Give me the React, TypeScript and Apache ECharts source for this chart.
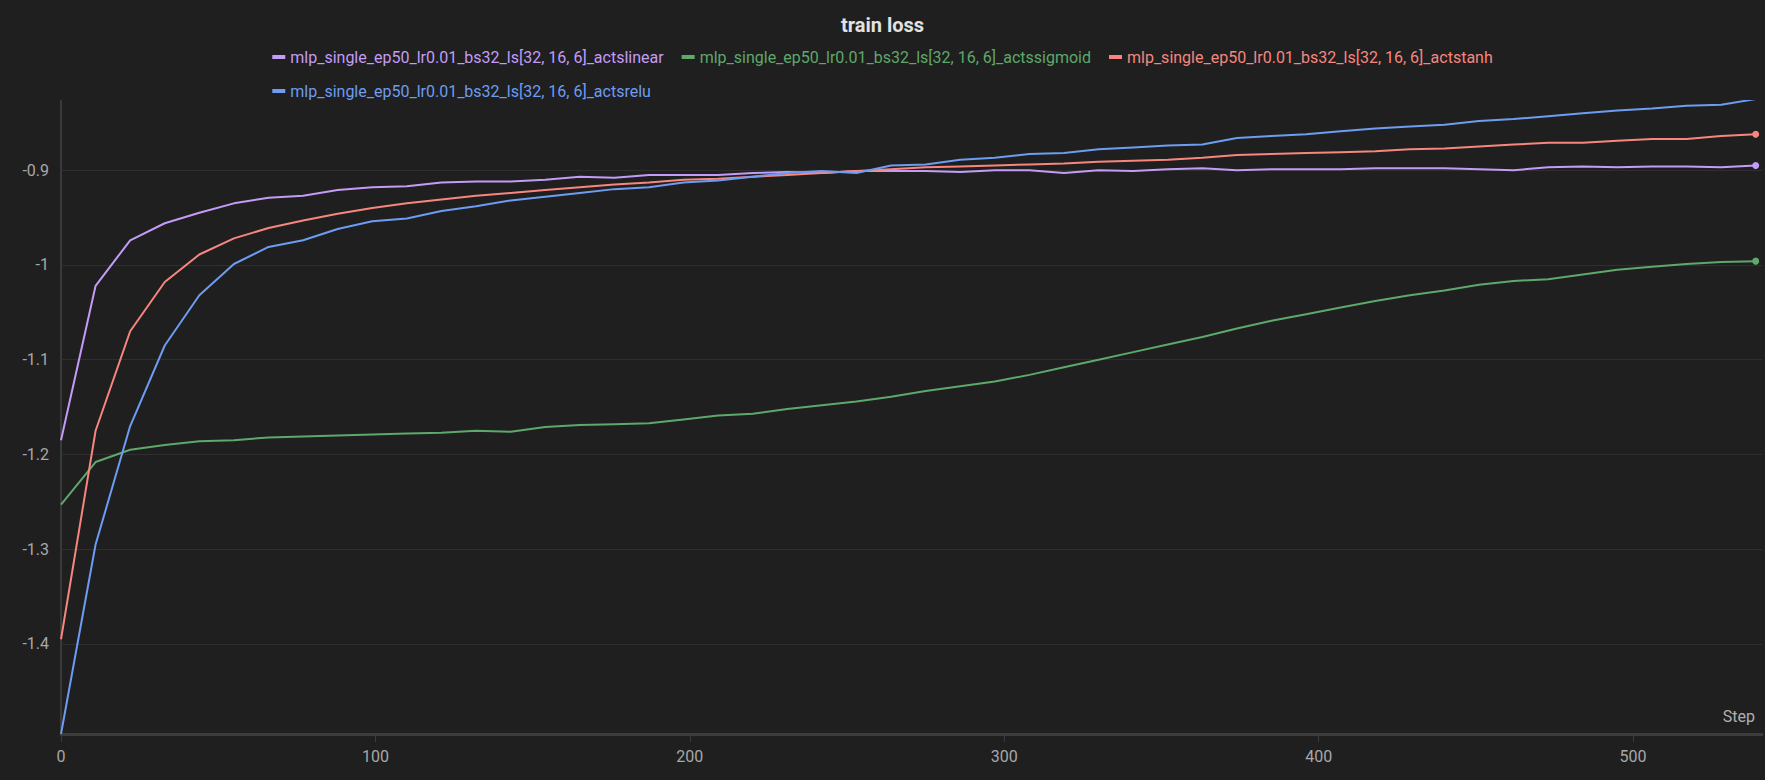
import { useEffect, useRef } from "react";
import * as echarts from "echarts";

const steps = [0, 11, 22, 33, 44, 55, 66, 77, 88, 99, 110, 121, 132, 143, 154, 165, 176, 187, 198, 209, 220, 231, 242, 253, 264, 275, 286, 297, 308, 319, 330, 341, 352, 363, 374, 385, 396, 407, 418, 429, 440, 451, 462, 473, 484, 495, 506, 517, 528, 539];

const linear = [-1.185, -1.022, -0.974, -0.956, -0.945, -0.935, -0.929, -0.927, -0.921, -0.918, -0.917, -0.913, -0.912, -0.912, -0.910, -0.907, -0.908, -0.905, -0.905, -0.905, -0.903, -0.902, -0.903, -0.901, -0.901, -0.901, -0.902, -0.900, -0.900, -0.903, -0.900, -0.901, -0.899, -0.898, -0.900, -0.899, -0.899, -0.899, -0.898, -0.898, -0.898, -0.899, -0.900, -0.897, -0.896, -0.897, -0.896, -0.896, -0.897, -0.895];
const sigmoid = [-1.253, -1.208, -1.195, -1.190, -1.186, -1.185, -1.182, -1.181, -1.180, -1.179, -1.178, -1.177, -1.175, -1.176, -1.171, -1.169, -1.168, -1.167, -1.163, -1.159, -1.157, -1.152, -1.148, -1.144, -1.139, -1.133, -1.128, -1.123, -1.116, -1.108, -1.100, -1.092, -1.084, -1.076, -1.067, -1.059, -1.052, -1.045, -1.038, -1.032, -1.027, -1.021, -1.017, -1.015, -1.010, -1.005, -1.002, -0.999, -0.997, -0.996];
const tanh = [-1.395, -1.175, -1.070, -1.018, -0.989, -0.972, -0.961, -0.953, -0.946, -0.940, -0.935, -0.931, -0.927, -0.924, -0.921, -0.918, -0.915, -0.913, -0.910, -0.909, -0.907, -0.905, -0.903, -0.901, -0.899, -0.897, -0.896, -0.895, -0.894, -0.893, -0.891, -0.890, -0.889, -0.887, -0.884, -0.883, -0.882, -0.881, -0.880, -0.878, -0.877, -0.875, -0.873, -0.871, -0.871, -0.869, -0.867, -0.867, -0.864, -0.862];
const relu = [-1.495, -1.295, -1.170, -1.085, -1.032, -0.999, -0.981, -0.974, -0.962, -0.954, -0.951, -0.943, -0.938, -0.932, -0.928, -0.924, -0.920, -0.918, -0.913, -0.911, -0.907, -0.903, -0.901, -0.903, -0.895, -0.894, -0.889, -0.887, -0.883, -0.882, -0.878, -0.876, -0.874, -0.873, -0.866, -0.864, -0.862, -0.859, -0.856, -0.854, -0.852, -0.848, -0.846, -0.843, -0.840, -0.837, -0.835, -0.832, -0.831, -0.825];

const gridTicks = [-1.4, -1.3, -1.2, -1.1, -1, -0.9];

const prefix = "mlp_single_ep50_lr0.01_bs32_ls[32, 16, 6]_acts";
const runs = [
  { name: prefix + "linear", values: linear, color: "#c39cf7" },
  { name: prefix + "sigmoid", values: sigmoid, color: "#5ea86a" },
  { name: prefix + "tanh", values: tanh, color: "#f7867e" },
  { name: prefix + "relu", values: relu, color: "#6d9cf2" },
];

const FONT = "Roboto, 'Noto Sans', sans-serif";

export default function App() {
  const ref = useRef<HTMLDivElement>(null);

  useEffect(() => {
    if (!ref.current) return;
    const chart = echarts.init(ref.current, undefined, { renderer: "svg" });
    chart.setOption({
      animation: false,
      backgroundColor: "#1f1f1f",
      textStyle: { fontFamily: FONT },
      title: {
        text: "train loss",
        left: "center",
        top: 10,
        textStyle: { color: "#e2e2e2", fontSize: 20, fontWeight: "bold", fontFamily: FONT },
      },
      legend: {
        top: 44,
        left: "center",
        width: 1260,
        icon: "rect",
        itemWidth: 13,
        itemHeight: 4,
        itemGap: 18,
        data: runs.map((r) => ({ name: r.name, textStyle: { color: r.color } })),
        textStyle: { fontSize: 16, fontFamily: FONT },
      },
      grid: { left: 61, right: 3, top: 101, bottom: 46 },
      xAxis: {
        type: "value",
        min: 0,
        max: 541,
        interval: 100,
        axisLine: { show: true, lineStyle: { color: "#3c3c3c", width: 3 } },
        axisTick: { show: true, length: 8, lineStyle: { color: "#3c3c3c" } },
        axisLabel: { color: "#a8a8a8", fontSize: 16, margin: 14, showMaxLabel: false },
        splitLine: { show: false },
      },
      yAxis: {
        type: "value",
        min: -1.495,
        max: -0.827,
        splitNumber: 6,
        axisLine: { show: true, lineStyle: { color: "#3a3a3a", width: 2 } },
        axisTick: { show: true, length: 8, inside: true, lineStyle: { color: "#3a3a3a" } },
        axisLabel: {
          color: "#a8a8a8",
          fontSize: 16,
          margin: 12,
          showMinLabel: false,
          showMaxLabel: false,
        },
        splitLine: { show: false },
      },
      graphic: [
        {
          type: "text",
          right: 10,
          top: 708,
          style: { text: "Step", fill: "#b0b0b0", fontSize: 16, fontFamily: FONT },
        },
      ],
      series: runs.map((r, i) => ({
        name: r.name,
        type: "line",
        color: r.color,
        symbol: "none",
        showSymbol: true,
        lineStyle: { width: 2, color: r.color },
        itemStyle: { color: r.color },
        data: r.values.map((v, j) =>
          j === r.values.length - 1
            ? { value: [steps[j], v], symbol: "circle", symbolSize: 7 }
            : { value: [steps[j], v] }
        ),
        z: 3,
        markLine:
          i === 0
            ? {
                silent: true,
                symbol: "none",
                label: { show: false },
                lineStyle: { color: "#2f2f2f", type: "solid", width: 1 },
                data: gridTicks.map((t) => ({ yAxis: t })),
                z: 1,
              }
            : undefined,
      })),
    });
    return () => chart.dispose();
  }, []);

  return (
    <div
      ref={ref}
      style={{ position: "fixed", left: 0, top: 0, width: 1765, height: 780 }}
    />
  );
}
